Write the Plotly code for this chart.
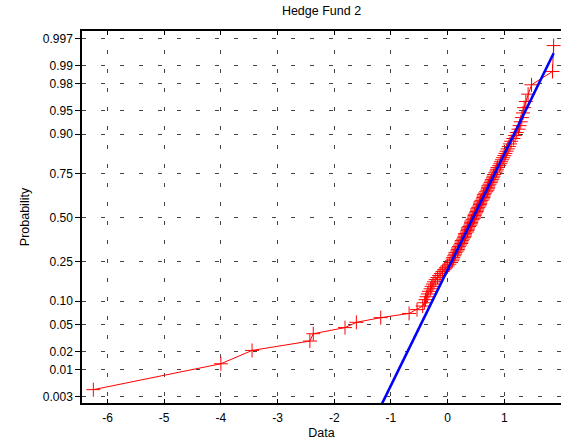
import plotly.graph_objects as go
from statistics import NormalDist

title_text = "Hedge Fund 2"
x_label = "Data"
y_label = "Probability"

# sorted data values of the normal probability plot
data_values = [
    -6.25, -4.00, -3.45, -2.43, -2.37, -1.81, -1.61, -1.18, -0.68, -0.54,
    -0.44, -0.41, -0.39, -0.37, -0.35, -0.33, -0.30, -0.28, -0.26, -0.24,
    -0.21, -0.18, -0.15, -0.12, -0.09, -0.06, -0.03, 0.00, 0.03, 0.06,
    0.08, 0.09, 0.10, 0.115, 0.13, 0.14, 0.17, 0.18, 0.185, 0.20,
    0.22, 0.24, 0.245, 0.25, 0.27, 0.29, 0.30, 0.305, 0.31, 0.34,
    0.35, 0.355, 0.36, 0.38, 0.40, 0.41, 0.415, 0.42, 0.44, 0.46,
    0.47, 0.475, 0.48, 0.50, 0.51, 0.52, 0.525, 0.54, 0.56, 0.57,
    0.575, 0.58, 0.60, 0.62, 0.63, 0.635, 0.64, 0.66, 0.68, 0.70,
    0.71, 0.715, 0.72, 0.74, 0.76, 0.77, 0.78, 0.80, 0.81, 0.82,
    0.84, 0.86, 0.87, 0.88, 0.91, 0.93, 0.94, 0.96, 0.98, 1.00,
    1.02, 1.04, 1.06, 1.08, 1.10, 1.12, 1.16, 1.19, 1.22, 1.25,
    1.27, 1.29, 1.31, 1.33, 1.35, 1.38, 1.42, 1.48, 1.85, 1.87,
]

prob_ticks = [0.003, 0.01, 0.02, 0.05, 0.10, 0.25, 0.50, 0.75, 0.90, 0.95, 0.98, 0.99, 0.997]
prob_labels = ["0.003", "0.01", "0.02", "0.05", "0.10", "0.25", "0.50", "0.75",
               "0.90", "0.95", "0.98", "0.99", "0.997"]
x_ticks = [-6, -5, -4, -3, -2, -1, 0, 1, 2]
x_tick_labels = ["-6", "-5", "-4", "-3", "-2", "-1", "0", "1", "2"]

nd = NormalDist()
n = len(data_values)
xs = sorted(data_values)
# plotting positions (i-0.5)/n on the normal-quantile scale
zs = [nd.inv_cdf((i + 0.5) / n) for i in range(n)]

# reference line through first and third quartiles
def pct(p):
    pos = p * n - 0.5
    lo = int(pos)
    fr = pos - lo
    return xs[lo] + fr * (xs[lo + 1] - xs[lo])

q1, q3 = pct(0.25), pct(0.75)
z1, z3 = nd.inv_cdf(0.25), nd.inv_cdf(0.75)
slope = (z3 - z1) / (q3 - q1)
def zline(x):
    return z1 + slope * (x - q1)
line_x = [xs[0], xs[-1]]
line_z = [zline(v) for v in line_x]

fig = go.Figure()
fig.add_trace(go.Scatter(
    x=xs, y=zs, mode="lines+markers",
    line=dict(color="red", width=1),
    marker=dict(symbol="cross-thin", size=10, line=dict(color="red", width=1)),
    showlegend=False,
))
fig.add_trace(go.Scatter(
    x=line_x, y=line_z, mode="lines",
    line=dict(color="#0000ff", width=2.6),
    showlegend=False,
))

font_family = "Liberation Sans, Arial, sans-serif"
fig.update_layout(
    width=561, height=443,
    margin=dict(l=82, r=0, t=31, b=40, autoexpand=False),
    paper_bgcolor="white", plot_bgcolor="white",
    font=dict(family=font_family, size=12, color="black"),
    title=dict(text=title_text, x=0.5, xref="paper", xanchor="center",
               y=0.985, yref="container", yanchor="top",
               font=dict(size=12.5, family=font_family, color="black")),
)
fig.update_xaxes(
    range=[-6.45, 2.0], tickvals=x_ticks, ticktext=x_tick_labels,
    showline=True, linecolor="black", linewidth=1.5, mirror="ticks",
    ticks="inside", ticklen=4, tickcolor="black", ticklabelstandoff=3,
    showgrid=True, gridcolor="#444444", gridwidth=1, griddash="4px,15px",
    zeroline=False, automargin=False,
    title=dict(text=x_label, standoff=4, font=dict(size=12.5)),
)
fig.update_yaxes(
    range=[-2.843, 2.862],
    tickvals=[nd.inv_cdf(p) for p in prob_ticks], ticktext=prob_labels,
    showline=True, linecolor="black", linewidth=1.5, mirror="ticks",
    ticks="outside", ticklen=5, tickcolor="black",
    showgrid=True, gridcolor="#444444", gridwidth=1, griddash="4px,15px",
    zeroline=False, automargin=False,
    title=dict(text=y_label, standoff=10, font=dict(size=12.5)),
)

fig.write_html("out.html", config={"displayModeBar": False},
               post_script="document.body.style.margin='0px';")
